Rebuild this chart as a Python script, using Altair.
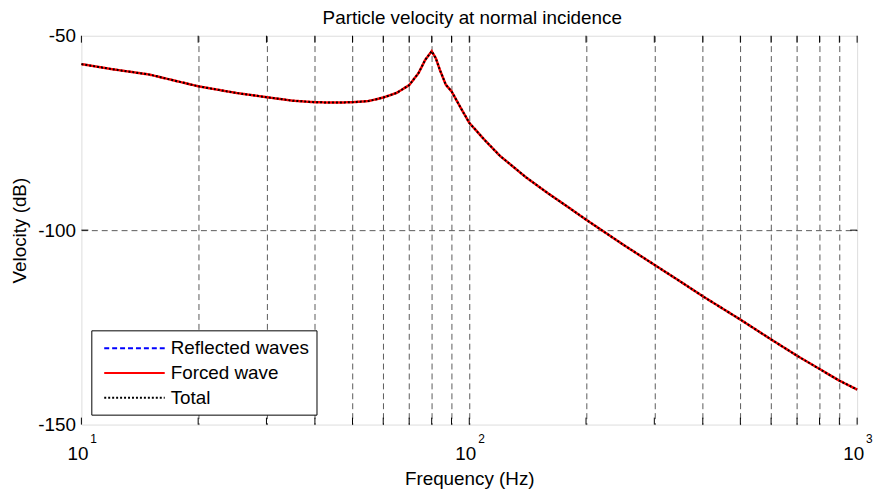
import altair as alt
import pandas as pd

# ---- data ----
freq = [10, 12, 15, 20, 25, 30, 35, 40, 45, 50, 55, 60, 65, 70, 74, 77, 80, 82, 84, 87,
        90, 95, 100, 110, 120, 140, 160, 180, 200, 250, 300, 350, 400, 500, 600, 700,
        800, 900, 1000]
velocity = [-57.3, -58.6, -60.0, -63.0, -64.7, -65.8, -66.7, -67.1, -67.2, -67.1, -66.8,
            -65.9, -64.7, -62.7, -59.6, -56.2, -54.0, -55.8, -58.8, -62.6, -64.3, -68.5,
            -72.4, -77.0, -80.9, -86.4, -90.6, -94.1, -97.3, -103.8, -108.9, -113.2,
            -117.0, -123.0, -128.1, -132.3, -135.7, -138.7, -141.0]

series_names = ["Reflected waves", "Forced wave", "Total"]
series_colors = ["#0000ff", "#ff0000", "#000000"]
series_dashes = [[5, 3], [1, 0], [2, 2]]

grid_freqs = [10, 20, 30, 40, 50, 60, 70, 80, 90, 100, 200, 300, 400, 500, 600, 700,
              800, 900, 1000]
decades = [10, 100, 1000]
exponents = ["1", "2", "3"]
y_ticks = [-150, -100, -50]
y_inner_ticks = [-100]

W, H = 782, 392
FONT = "Liberation Sans"

n = len(freq)
curve = pd.DataFrame({
    "f": freq * 2,
    "v": velocity * 2,
    "series": ["Forced wave"] * n + ["Total"] * n,
})
tick_df = pd.DataFrame({"f": grid_freqs})
ytick_df = pd.DataFrame({"v": y_inner_ticks})
exp_df = pd.DataFrame({"f": decades, "e": exponents})

xscale = alt.Scale(type="log", domain=[10, 1000], nice=False)
yscale = alt.Scale(domain=[-150, -50], nice=False)

legend = alt.Legend(
    orient="none", legendX=10, legendY=297,
    symbolType="M-0.5,0H5.6", symbolSize=400, symbolStrokeWidth=2,
    labelFontSize=19, labelFont=FONT, labelColor="black", labelOffset=51,
    padding=7, rowPadding=4, fillColor="white", strokeColor="black",
    cornerRadius=0,
)

color = alt.Color("series:N", title=None,
                  scale=alt.Scale(domain=series_names, range=series_colors),
                  legend=legend)
dash = alt.StrokeDash("series:N", title=None,
                      scale=alt.Scale(domain=series_names, range=series_dashes),
                      legend=legend)

xaxis = alt.Axis(
    values=grid_freqs,
    labelExpr="(datum.value == 10 || datum.value == 100 || datum.value == 1000) ? '10' : ''",
    labelFlush=False, labelOverlap=False, labelOffset=-4, labelPadding=35,
    labelBaseline="alphabetic", labelFontSize=19,
    ticks=False, tickSize=0, domain=False,
    grid=True, gridDash=[6, 4], gridColor="#5a5a5a", gridWidth=1,
    gridOpacity={"condition": {"test": "datum.value > 10.5 && datum.value < 999", "value": 1},
                 "value": 0},
    title="Frequency (Hz)", titleX=W / 2, titleY=60, titleBaseline="alphabetic",
    titleFontSize=19, titleFontWeight="normal",
)
yaxis = alt.Axis(
    values=y_ticks, labelExpr="'' + datum.value",
    labelFlush=False, labelOverlap=False, labelPadding=6, labelFontSize=19,
    ticks=False, tickSize=0, domain=False,
    grid=True, gridDash=[6, 4], gridColor="#5a5a5a", gridWidth=1,
    gridOpacity={"condition": {"test": "datum.value == -100", "value": 1}, "value": 0},
    title="Velocity (dB)", titleX=-56, titleY=H / 2, titleAngle=270,
    titleBaseline="alphabetic", titleAlign="center",
    titleFontSize=19, titleFontWeight="normal",
)

xs = alt.X("f:Q", scale=xscale, axis=xaxis)
ys = alt.Y("v:Q", scale=yscale, axis=yaxis)

base = alt.Chart(curve).encode(x=xs, y=ys, color=color, strokeDash=dash)
forced = base.transform_filter("datum.series == 'Forced wave'").mark_line(strokeWidth=2.5)
total = base.transform_filter("datum.series == 'Total'").mark_line(strokeWidth=2)

ticks_bottom = alt.Chart(tick_df).mark_rule(color="black", strokeWidth=1).encode(
    x=xs, y=alt.value(H), y2=alt.value(H - 7))
ticks_top = alt.Chart(tick_df).mark_rule(color="black", strokeWidth=1).encode(
    x=xs, y=alt.value(0), y2=alt.value(7))
ticks_left = alt.Chart(ytick_df).mark_rule(color="black", strokeWidth=1).encode(
    y=ys, x=alt.value(0), x2=alt.value(7))
ticks_right = alt.Chart(ytick_df).mark_rule(color="black", strokeWidth=1).encode(
    y=ys, x=alt.value(W - 7), x2=alt.value(W))
exps = alt.Chart(exp_df).mark_text(
    align="left", baseline="alphabetic", dx=9, fontSize=12, font=FONT, color="black"
).encode(x=xs, y=alt.value(H + 19), text="e:N")

chart = alt.layer(
    forced, total, ticks_bottom, ticks_top, ticks_left, ticks_right, exps
).properties(
    width=W, height=H,
    title=alt.TitleParams(
        text="Particle velocity at normal incidence", fontSize=19, fontWeight="normal",
        font=FONT, color="black", anchor="middle", offset=-1, dx=3, frame="group",
    ),
    padding={"left": 74, "top": 26, "right": 16, "bottom": 64},
    autosize=alt.AutoSizeParams(type="none"),
).configure_view(
    stroke="black", strokeWidth=1
).configure_axis(
    labelFont=FONT, titleFont=FONT, labelColor="black", titleColor="black"
).configure(background="white")

chart.save("out.html", embed_options={"renderer": "svg", "actions": False})
